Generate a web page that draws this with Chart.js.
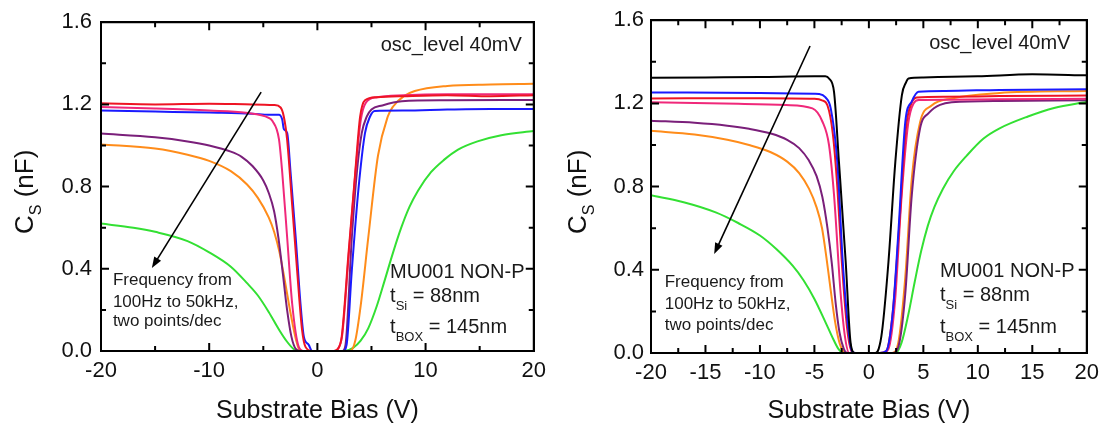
<!DOCTYPE html>
<html>
<head>
<meta charset="utf-8">
<script src="https://cdn.jsdelivr.net/npm/chart.js@4.4.0/dist/chart.umd.min.js"></script>
<style>
  html, body { margin: 0; padding: 0; background: #fff; }
  #wrap { position: relative; width: 1106px; height: 428px; }
  .panel { position: absolute; top: 0; width: 553px; height: 428px; }
  .box { position: absolute; border: 2px solid #000; box-sizing: border-box; pointer-events: none; }
</style>
</head>
<body>
<div id="wrap">
  <div class="panel" style="left:0"><canvas id="left" width="553" height="428"></canvas></div>
  <div class="panel" style="left:553px"><canvas id="right" width="553" height="428"></canvas></div>
</div>
<script>
// ---- left panel: substrate bias (V) vs Cs (nF), one pair per frequency ----
const biasL_red = [-20,-15,-10,-6,-4,-3.4,-3.1,-2.8,-2.33,-1.87,-1.41,-1.1,-0.5,1.5,1.9,2.25,2.87,3.5,3.95,4.4,5.5,8,12,16,20];
const capL_red  = [1.205,1.2,1.203,1.2,1.197,1.185,1.14,1.03,0.71,0.39,0.1,0.02,0,0,0.01,0.07,0.47,0.87,1.14,1.22,1.235,1.24,1.245,1.24,1.245];

const biasL_pink = [-20,-15,-10,-6.6,-4.5,-4.17,-3.55,-3.25,-2.79,-2.33,-1.72,-1.3,1.6,2.0,2.3,2.9,3.5,4.0,4.5,5.5,8,12,16,20];
const capL_pink  = [1.187,1.18,1.17,1.159,1.135,1.12,1.03,0.87,0.55,0.23,0.02,0,0,0.02,0.08,0.47,0.86,1.12,1.21,1.235,1.245,1.25,1.25,1.25];

const biasL_blue = [-20,-15,-10,-6,-4.5,-3.55,-3.25,-3.1,-2.79,-2.48,-2.0,-1.56,-1.25,-0.8,-0.5,2.4,2.7,3.18,3.8,4.4,4.86,5.3,8,12,16,20];
const capL_blue  = [1.17,1.165,1.16,1.155,1.15,1.15,1.126,1.08,1.06,0.87,0.55,0.23,0.07,0.03,0,0,0.03,0.39,0.79,1.06,1.14,1.168,1.17,1.175,1.178,1.178];

const biasL_purple = [-20,-15,-12,-10,-8,-7,-6,-5,-4.5,-4,-3.6,-3.2,-2.8,-2.4,-2.0,-1.6,2.3,2.6,3.18,3.65,4.1,4.56,5.0,6,7.8,12,20];
const capL_purple  = [1.058,1.04,1.02,1.0,0.97,0.945,0.9,0.83,0.77,0.68,0.55,0.38,0.2,0.07,0.01,0,0,0.03,0.55,0.87,1.06,1.14,1.175,1.195,1.215,1.22,1.222];

const biasL_orange = [-20,-15,-12,-10,-8,-6.5,-5.5,-4.5,-4,-3.5,-3,-2.5,-2,-1.6,3.0,3.5,4.0,4.7,5.6,6.5,7.0,8.0,9,12,16,20];
const capL_orange  = [1.005,0.985,0.955,0.925,0.875,0.81,0.745,0.65,0.58,0.48,0.34,0.19,0.06,0,0,0.05,0.22,0.55,0.95,1.14,1.19,1.24,1.265,1.29,1.297,1.3];

const biasL_green = [-20,-17,-15,-12,-10,-8,-6.5,-5.5,-4.5,-3.5,-2.8,-2.2,-1.7,2.5,3.3,4.0,4.7,5.5,6.2,7,7.75,8.5,9.3,10.5,11.7,13,14.8,17,20];
const capL_green  = [0.62,0.6,0.58,0.535,0.48,0.41,0.33,0.27,0.19,0.1,0.045,0.01,0,0,0.015,0.05,0.11,0.22,0.34,0.48,0.6,0.7,0.78,0.87,0.93,0.98,1.02,1.05,1.07];

// ---- right panel ----
const biasR_black = [-20,-15,-10,-5,-4.0,-3.66,-3.2,-2.75,-2.13,-1.68,-1.3,0.6,0.9,1.2,1.8,2.43,3.03,3.4,3.64,5,10,15,20];
const capR_black  = [1.323,1.325,1.327,1.33,1.33,1.32,1.256,0.92,0.44,0.05,0,0,0.02,0.1,0.44,0.92,1.24,1.3,1.32,1.325,1.33,1.34,1.335];

const biasR_blue = [-20,-10,-5,-4.57,-4.0,-3.5,-2.9,-2.4,-1.9,-1.56,-1.2,1.0,1.6,2.2,2.73,3.34,3.94,4.55,7,12,20];
const capR_blue  = [1.253,1.25,1.246,1.245,1.23,1.176,0.92,0.44,0.12,0.01,0,0,0.01,0.2,0.6,1.11,1.21,1.256,1.26,1.265,1.268];

const biasR_red = [-20,-10,-5,-4.3,-3.8,-3.3,-2.9,-2.5,-2.0,-1.6,-1.3,1.0,1.6,2.2,2.8,3.4,3.9,4.4,7,12,20];
const capR_red  = [1.224,1.225,1.222,1.215,1.19,1.05,0.8,0.45,0.12,0.01,0,0,0.01,0.2,0.62,1.08,1.2,1.228,1.232,1.235,1.238];

const biasR_pink = [-20,-12,-7.6,-5.18,-4.27,-3.66,-3.2,-2.6,-2.2,-1.8,1.3,1.8,2.4,3.0,3.6,4.1,4.6,7,12,20];
const capR_pink  = [1.205,1.198,1.192,1.176,1.113,1.0,0.76,0.29,0.08,0,0,0.02,0.25,0.75,1.1,1.2,1.216,1.218,1.22,1.222];

const biasR_purple = [-20,-16,-13,-11,-9,-7.5,-6.4,-5.5,-4.8,-4.27,-3.8,-3.4,-3.05,-2.7,-2.3,-2.0,2.2,2.8,3.34,3.94,4.7,5.46,7.6,12,20];
const capR_purple  = [1.117,1.107,1.093,1.078,1.055,1.025,0.985,0.925,0.85,0.75,0.6,0.43,0.24,0.1,0.02,0,0,0.05,0.285,0.76,1.08,1.152,1.205,1.212,1.215];

const biasR_orange = [-20,-16,-13,-11,-9,-7.5,-6.4,-5.5,-4.8,-4.3,-3.9,-3.5,-3.1,-2.7,-2.3,-2.0,2.1,2.7,3.34,3.94,4.7,5.76,7.6,12,20];
const capR_orange  = [1.068,1.05,1.025,1.0,0.965,0.92,0.865,0.79,0.7,0.6,0.46,0.3,0.15,0.05,0.005,0,0,0.05,0.364,0.84,1.11,1.19,1.224,1.25,1.26];

const biasR_green = [-20,-17,-14,-12,-10,-8.5,-7,-6,-5,-4,-3.3,-2.8,-2.3,2.43,3.0,3.6,4.2,4.8,5.4,6.0,6.8,7.8,9,10.5,12,14.6,17,20];
const capR_green  = [0.758,0.725,0.675,0.625,0.565,0.5,0.42,0.35,0.26,0.15,0.07,0.02,0,0,0.05,0.18,0.34,0.49,0.61,0.7,0.79,0.875,0.95,1.03,1.08,1.137,1.178,1.208];

const FONT = '"Liberation Sans", Arial, sans-serif';
const colors = {
  black: '#000000', blue: '#1a1aff', red: '#ee1424', pink: '#f0287a',
  purple: '#7a1f7a', orange: '#ff8c1a', green: '#33e033'
};

function pts(v, c) { return v.map((x, i) => ({ x: x, y: c[i] })); }
function line(v, c, col) {
  return { data: pts(v, c), borderColor: col, borderWidth: 2, pointRadius: 0,
           showLine: true, fill: false, cubicInterpolationMode: 'monotone' };
}

// box, inward ticks, arrow, notes and axis titles
const notes = {
  id: 'notes',
  afterDraw(chart) {
    const o = chart.config.options.panel;
    const ctx = chart.ctx;
    const a = chart.chartArea;
    const x = chart.scales.x, y = chart.scales.y;
    ctx.save();
    ctx.strokeStyle = '#000';
    ctx.fillStyle = '#000';

    ctx.lineWidth = 1.6;
    const x1 = x.getPixelForValue(o.arrow[0]), y1 = y.getPixelForValue(o.arrow[1]);
    const x2 = x.getPixelForValue(o.arrow[2]), y2 = y.getPixelForValue(o.arrow[3]);
    const ang = Math.atan2(y2 - y1, x2 - x1);
    const c = Math.cos(ang), s = Math.sin(ang);
    ctx.beginPath();
    ctx.moveTo(x1, y1);
    ctx.lineTo(x2 - 6 * c, y2 - 6 * s);
    ctx.stroke();
    ctx.beginPath();
    ctx.moveTo(x2, y2);
    ctx.lineTo(x2 - 11 * c + 4 * s, y2 - 11 * s - 4 * c);
    ctx.lineTo(x2 - 11 * c - 4 * s, y2 - 11 * s + 4 * c);
    ctx.closePath();
    ctx.fill();

    const L = a.left, R = a.right, T = a.top, B = a.bottom;
    ctx.lineWidth = 2;
    ctx.beginPath();
    ctx.moveTo(L, T);
    ctx.lineTo(R, T);
    ctx.lineTo(R, B);
    ctx.lineTo(L, B);
    ctx.closePath();
    for (let i = 1; i < 8; i++) {
      const py = y.getPixelForValue(i * 0.2);
      const len = i % 2 === 0 ? 8 : 5;
      ctx.moveTo(L, py); ctx.lineTo(L + len, py);
      ctx.moveTo(R, py); ctx.lineTo(R - len, py);
    }
    const n = Math.round(40 / o.xMinor);
    for (let i = 1; i < n; i++) {
      const v = -20 + i * o.xMinor;
      const px = x.getPixelForValue(v);
      const len = Math.abs((v + 20) % o.xMajor) < 1e-6 ? 8 : 5;
      ctx.moveTo(px, B); ctx.lineTo(px, B - len);
      ctx.moveTo(px, T); ctx.lineTo(px, T + len);
    }
    ctx.stroke();

    ctx.fillStyle = '#1a1a1a';
    ctx.textBaseline = 'alphabetic';
    ctx.font = '20px ' + FONT;
    ctx.textAlign = 'right';
    ctx.fillText('osc_level 40mV', x.getPixelForValue(o.osc[0]), y.getPixelForValue(o.osc[1]));

    ctx.font = '17px ' + FONT;
    ctx.textAlign = 'left';
    const fx = x.getPixelForValue(o.freq[0]);
    ['Frequency from', '100Hz to 50kHz,', 'two points/dec'].forEach((t, i) => {
      ctx.fillText(t, fx, y.getPixelForValue(o.freq[1 + i]));
    });

    const dx = x.getPixelForValue(o.dev[0]);
    ctx.font = '20px ' + FONT;
    ctx.fillText('MU001 NON-P', dx, y.getPixelForValue(o.dev[1]));
    const sub = (main, sb, rest, by) => {
      ctx.font = '20px ' + FONT;
      ctx.fillText(main, dx, by);
      let w = ctx.measureText(main).width;
      ctx.font = '13px ' + FONT;
      ctx.fillText(sb, dx + w, by + 8);
      w += ctx.measureText(sb).width;
      ctx.font = '20px ' + FONT;
      ctx.fillText(rest, dx + w, by);
    };
    sub('t', 'Si', ' = 88nm', y.getPixelForValue(o.dev[2]));
    sub('t', 'BOX', ' = 145nm', y.getPixelForValue(o.dev[3]));

    ctx.fillStyle = '#111';
    ctx.font = '25px ' + FONT;
    ctx.textAlign = 'center';
    ctx.fillText('Substrate Bias (V)', (a.left + a.right) / 2, 418);

    ctx.translate(o.yTitleX, 234);
    ctx.rotate(-Math.PI / 2);
    ctx.textAlign = 'left';
    ctx.font = '26px ' + FONT;
    ctx.fillText('C', 0, 0);
    let w = ctx.measureText('C').width;
    ctx.font = '16px ' + FONT;
    ctx.fillText('S', w, 8);
    w += ctx.measureText('S').width;
    ctx.font = '26px ' + FONT;
    ctx.fillText(' (nF)', w, 0);
    ctx.restore();
  }
};

function makeChart(id, sets, p) {
  const chart = new Chart(document.getElementById(id), {
    type: 'scatter',
    data: { datasets: sets },
    options: {
      panel: p,
      responsive: false,
      animation: false,
      devicePixelRatio: 1,
      events: [],
      layout: { padding: { left: 0, top: p.top, right: 553 - p.right, bottom: 0 } },
      plugins: { legend: { display: false }, tooltip: { enabled: false } },
      scales: {
        x: {
          type: 'linear', min: -20, max: 20,
          grid: { display: false, drawTicks: false },
          border: { display: false },
          ticks: { stepSize: p.xMajor, padding: 7, color: '#111', font: { family: FONT, size: 22 } },
          afterFit: (s) => { s.height = 428 - p.bottom; }
        },
        y: {
          min: 0, max: 1.6,
          grid: { display: false, drawTicks: false },
          border: { display: false },
          ticks: { stepSize: 0.4, padding: p.yPad, color: '#111', font: { family: FONT, size: 22 },
                   callback: (v) => v.toFixed(1) },
          afterFit: (s) => { s.width = p.left; }
        }
      }
    },
    plugins: [notes]
  });
  // same box as an html overlay laid on the chart area
  const a = chart.chartArea;
  const box = document.createElement('div');
  box.className = 'box';
  box.style.left = (a.left - 1) + 'px';
  box.style.top = (a.top - 1) + 'px';
  box.style.width = (a.right - a.left + 2) + 'px';
  box.style.height = (a.bottom - a.top + 2) + 'px';
  chart.canvas.parentNode.appendChild(box);
  return chart;
}

makeChart('left', [
  line(biasL_red, capL_red, colors.red),
  line(biasL_pink, capL_pink, colors.pink),
  line(biasL_blue, capL_blue, colors.blue),
  line(biasL_purple, capL_purple, colors.purple),
  line(biasL_orange, capL_orange, colors.orange),
  line(biasL_green, capL_green, colors.green)
], { left: 101, right: 537, top: 18, bottom: 351, xMajor: 10, xMinor: 5, yPad: 9, yTitleX: 33,
     arrow: [-5.2, 1.26, -15.3, 0.404], osc: [18.9, 1.46], freq: [-18.9, 0.322, 0.215, 0.12],
     dev: [6.72, 0.356, 0.237, 0.087] });

makeChart('right', [
  line(biasR_black, capR_black, colors.black),
  line(biasR_blue, capR_blue, colors.blue),
  line(biasR_red, capR_red, colors.red),
  line(biasR_pink, capR_pink, colors.pink),
  line(biasR_purple, capR_purple, colors.purple),
  line(biasR_orange, capR_orange, colors.orange),
  line(biasR_green, capR_green, colors.green)
], { left: 98, right: 536, top: 18, bottom: 353, xMajor: 5, xMinor: 2.5, yPad: 7, yTitleX: 33,
     arrow: [-5.4, 1.476, -14.2, 0.476], osc: [18.5, 1.461], freq: [-18.74, 0.315, 0.21, 0.11],
     dev: [6.53, 0.364, 0.25, 0.0955] });
</script>
</body>
</html>
